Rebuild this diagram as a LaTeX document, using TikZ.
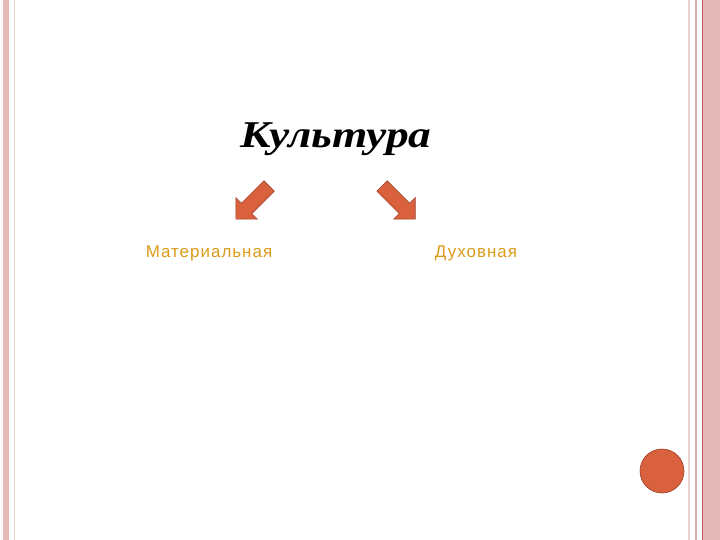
\documentclass[tikz,border=0pt]{standalone}
\usepackage{fontspec}
\setmainfont{Liberation Serif}
\setsansfont{Liberation Sans}
\newfontfamily\titlefont[FakeStretch=1.2]{Liberation Serif}
\newfontfamily\labelfont[LetterSpace=6]{Liberation Sans}
\usetikzlibrary{shapes.arrows,shapes.geometric}
\definecolor{bandpink}{RGB}{229,185,183}
\definecolor{lightband}{RGB}{236,212,206}
\definecolor{darkline}{RGB}{192,80,77}
\definecolor{arrowfill}{RGB}{217,97,62}
\definecolor{arrowedge}{RGB}{160,60,40}
\definecolor{labelgold}{RGB}{218,155,25}
\tikzset{
  kindlabel/.style={font=\labelfont\fontsize{17}{20}\selectfont, text=labelgold, inner sep=0pt},
  bigarrow/.style={single arrow, fill=arrowfill, draw=arrowedge, line width=0.6bp,
    minimum height=47bp, inner xsep=0pt, inner ysep=7bp, single arrow head extend=8bp,
    single arrow head indent=0pt}
}
\begin{document}
\begin{tikzpicture}[x=1bp,y=-1bp]
  \useasboundingbox (0,0) rectangle (720,540);
  % slide border bands
  \fill[bandpink] (3,0) rectangle (9,540);
  \fill[lightband] (14,0) rectangle (15,540);
  \fill[lightband] (688,0) rectangle (690,540);
  \fill[bandpink!80!gray] (695,0) rectangle (697,540);
  \fill[bandpink] (703,0) rectangle (720,540);
  \draw[darkline, line width=1bp] (702.5,0) -- (702.5,540);

  \node[inner sep=0pt, font=\titlefont\fontsize{38}{44}\selectfont\bfseries\itshape] (kult) at (336,139) {Культура};
  \node[bigarrow, rotate=225] (al) at (255,200) {};
  \node[bigarrow, rotate=-45] (ar) at (396,200) {};
  \node[kindlabel] (mat) at (209,253) {Материальная};
  \node[kindlabel] (duh) at (476,253) {Духовная};

  \node[circle, fill=arrowfill, draw=arrowedge, line width=0.6bp, minimum size=44bp, inner sep=0pt] (dot) at (662,471) {};
\end{tikzpicture}
\end{document}
